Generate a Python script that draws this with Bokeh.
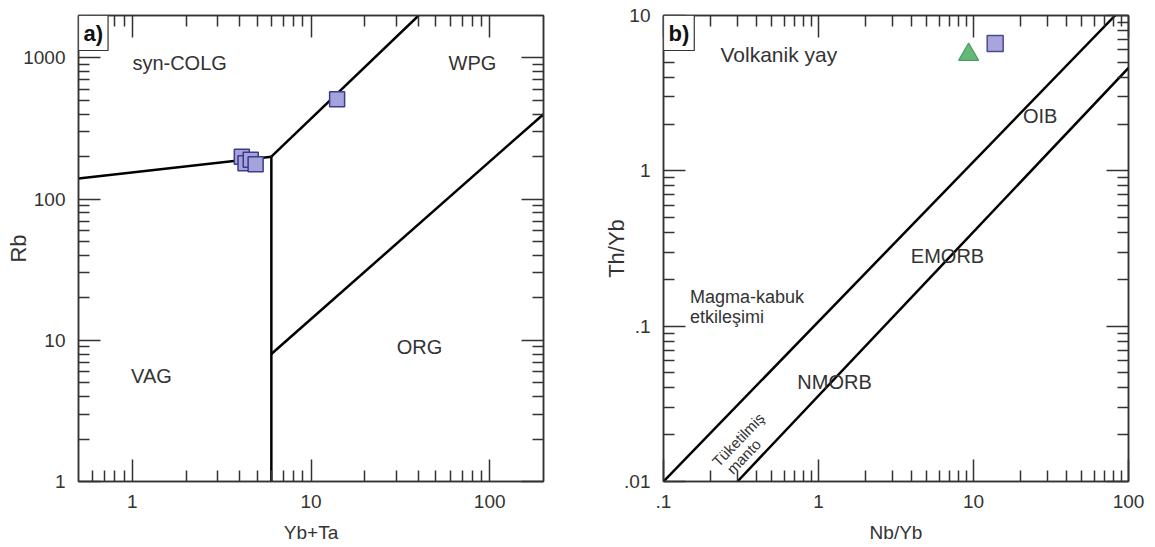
from bokeh.plotting import figure
from bokeh.layouts import row
from bokeh.models import LogAxis, FixedTicker, Label, Range1d
from bokeh.embed import file_html
from bokeh.resources import INLINE

# ---------------- Panel a: Rb vs Yb+Ta ----------------
a_x_ticks = [1, 10, 100]
a_x_labels = ["1", "10", "100"]
a_y_ticks = [1, 10, 100, 1000]
a_y_labels = ["1", "10", "100", "1000"]

a_colg_vag_x = [0.5, 6]
a_colg_vag_y = [140, 200]
a_colg_wpg_x = [6, 40]
a_colg_wpg_y = [200, 2000]
a_vag_org_x = [6, 6]
a_vag_org_y = [1, 200]
a_org_wpg_x = [6, 200]
a_org_wpg_y = [8, 400]

a_sample_x = [4.1, 4.3, 4.6, 4.9, 14.0]
a_sample_y = [200, 180, 190, 177, 510]

# ---------------- Panel b: Th/Yb vs Nb/Yb ----------------
b_x_ticks = [0.1, 1, 10, 100]
b_x_labels = [".1", "1", "10", "100"]
b_y_ticks = [0.01, 0.1, 1, 10]
b_y_labels = [".01", ".1", "1", "10"]

b_upper_x = [0.1, 82]
b_upper_y = [0.01, 10]
b_lower_x = [0.3, 100]
b_lower_y = [0.01, 4.6]

b_square_x = [13.8]
b_square_y = [6.6]
b_triangle_x = [9.3]
b_triangle_y = [5.6]

FONT = "Liberation Sans"
DARK = "#333333"


def minor_ticks(lo, hi):
    out = []
    for e in range(-3, 4):
        for m in range(2, 10):
            v = m * 10.0 ** e
            if lo < v < hi:
                out.append(v)
    return out


def style_axis(ax, ticks, labels, lo, hi, show):
    ax.ticker = FixedTicker(ticks=ticks, minor_ticks=minor_ticks(lo, hi))
    ax.major_tick_in = 22
    ax.major_tick_out = 0
    ax.minor_tick_in = 11
    ax.minor_tick_out = 0
    ax.major_tick_line_color = DARK
    ax.minor_tick_line_color = DARK
    ax.major_tick_line_width = 1.5
    ax.minor_tick_line_width = 1.5
    ax.axis_line_color = DARK
    ax.axis_line_width = 1.5
    if show:
        ax.major_label_overrides = {t: l for t, l in zip(ticks, labels)}
        ax.major_label_text_font = FONT
        ax.major_label_text_font_size = "19px"
        ax.major_label_text_color = DARK
        ax.major_label_standoff = 13
    else:
        ax.major_label_overrides = {t: "" for t in ticks}
        ax.major_label_text_font_size = "0px"
        ax.major_label_standoff = 0


def make_fig(xr, yr, xt, xl, yt, yl, bl, br, bt, bb, xlabel, ylabel, ylabel_standoff):
    p = figure(x_axis_type="log", y_axis_type="log",
               x_range=Range1d(*xr), y_range=Range1d(*yr),
               frame_width=465, frame_height=466,
               min_border_left=bl, min_border_right=br,
               min_border_top=bt, min_border_bottom=bb,
               output_backend="svg", toolbar_location=None,
               background_fill_color="white", border_fill_color="white")
    p.grid.visible = False
    p.outline_line_color = DARK
    p.outline_line_width = 1.5
    bottom = p.below[0]
    left = p.left[0]
    style_axis(bottom, xt, xl, xr[0], xr[1], True)
    style_axis(left, yt, yl, yr[0], yr[1], True)
    bottom.axis_label = xlabel
    left.axis_label = ylabel
    for ax, fs in [(bottom, "19px"), (left, "22px")]:
        ax.axis_label_text_font = FONT
        ax.axis_label_text_font_size = fs
        ax.axis_label_text_font_style = "normal"
        ax.axis_label_text_color = DARK
    bottom.axis_label_standoff = 11
    left.axis_label_standoff = ylabel_standoff
    top = LogAxis()
    right = LogAxis()
    style_axis(top, xt, xl, xr[0], xr[1], False)
    style_axis(right, yt, yl, yr[0], yr[1], False)
    p.add_layout(top, "above")
    p.add_layout(right, "right")
    return p


def add_text(p, x, y, text, size="20px", align="center", angle=0):
    p.add_layout(Label(x=x, y=y, text=text, text_font=FONT, text_font_size=size,
                       text_color=DARK, text_align=align, text_baseline="middle",
                       angle=angle, angle_units="deg"))


def add_tag(p, x, y, text):
    p.add_layout(Label(x=x, y=y, text=text, text_font=FONT, text_font_size="22px",
                       text_font_style="bold", text_color="#111111",
                       text_align="left", text_baseline="top",
                       background_fill_color="white", border_line_color=DARK,
                       border_line_width=1.2, padding=5))


# ---- panel a ----
pa = make_fig((0.5, 200), (1, 2000), a_x_ticks, a_x_labels, a_y_ticks, a_y_labels,
              78, 35, 15, 66, "Yb+Ta", "Rb", -11)
for line_x, line_y in [(a_colg_vag_x, a_colg_vag_y), (a_colg_wpg_x, a_colg_wpg_y),
                       (a_vag_org_x, a_vag_org_y), (a_org_wpg_x, a_org_wpg_y)]:
    pa.line(line_x, line_y, line_color="black", line_width=2.5)
pa.scatter(a_sample_x, a_sample_y, marker="square", size=15,
           fill_color="#a5a3dc", line_color="#3f3a8c", line_width=1.5)
add_text(pa, 1.84, 927, "syn-COLG")
add_text(pa, 80, 927, "WPG")
add_text(pa, 1.28, 5.6, "VAG")
add_text(pa, 40.5, 9.0, "ORG")
add_tag(pa, 0.5, 2000, "a)")

# ---- panel b ----
pb = make_fig((0.1, 100), (0.01, 10), b_x_ticks, b_x_labels, b_y_ticks, b_y_labels,
              85, 27, 14, 67, "Nb/Yb", "Th/Yb", -8)
pb.line(b_upper_x, b_upper_y, line_color="black", line_width=2.5)
pb.line(b_lower_x, b_lower_y, line_color="black", line_width=2.5)
pb.scatter(b_triangle_x, b_triangle_y, marker="triangle", size=20,
           fill_color="#64b978", line_color="#4a9e60", line_width=1.2)
pb.scatter(b_square_x, b_square_y, marker="square", size=16,
           fill_color="#a7a5dc", line_color="#4b4a8c", line_width=1.5)
add_text(pb, 0.555, 5.6, "Volkanik yay", size="21px")
add_text(pb, 26.9, 2.24, "OIB")
add_text(pb, 6.8, 0.281, "EMORB")
add_text(pb, 1.27, 0.044, "NMORB")
add_text(pb, 0.148, 0.155, "Magma-kabuk", size="18px", align="left")
add_text(pb, 0.148, 0.115, "etkileşimi", size="18px", align="left")
add_text(pb, 0.303, 0.0186, "Tüketilmiş", size="15px", angle=46)
add_text(pb, 0.329, 0.0145, "manto", size="15px", angle=46)
add_tag(pb, 0.1, 10, "b)")

layout = row(pa, pb)
open("out.html", "w").write(file_html(layout, INLINE))
